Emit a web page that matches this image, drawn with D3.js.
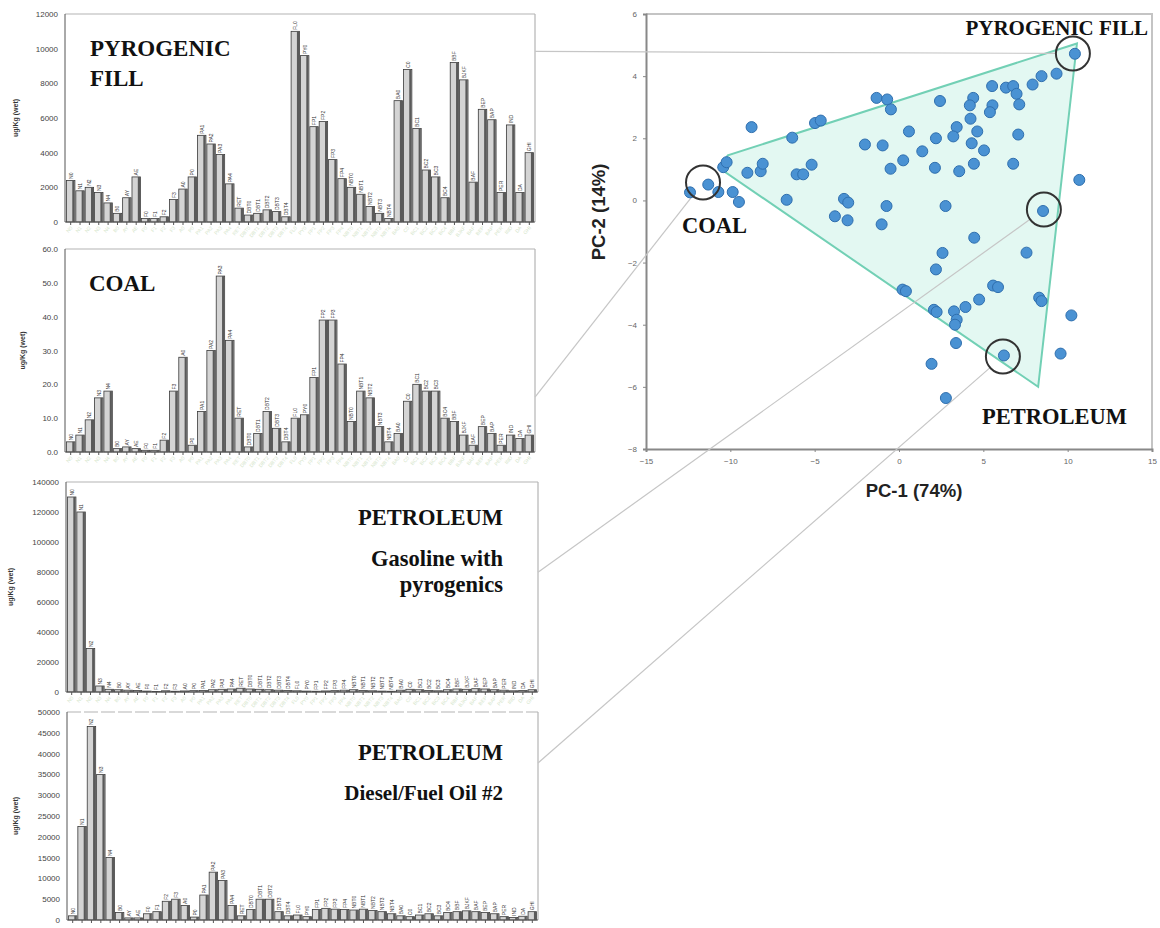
<!DOCTYPE html>
<html>
<head>
<meta charset="utf-8">
<script src="https://cdn.jsdelivr.net/npm/d3@7"></script>
<style>
body{margin:0;background:#fff;}
svg{display:block;}
</style>
</head>
<body>
<svg id="graphic" width="1160" height="928"></svg>
<script>

// Analytes on the x axis of the four bar charts
const compounds = ["N0","N1","N2","N3","N4","B0","AY","AE","F0","F1","F2","F3","A0","P0","PA1","PA2","PA3","PA4","RET",
    "DBT0","DBT1","DBT2","DBT3","DBT4","FL0","PY0","FP1","FP2","FP3","FP4","NBT0","NBT1","NBT2","NBT3","NBT4",
    "BA0","C0","BC1","BC2","BC3","BC4","BBF","BJKF","BAF","BEP","BAP","PER","IND","DA","GHI"]

// Concentrations, ug/Kg (wet)
const pyroValues = [2400,1800,2000,1700,1100,500,1400,2600,200,200,300,1300,1900,2600,5000,4500,3900,2200,800,400,
    500,700,600,300,11000,9600,5500,5800,3600,2500,2000,1600,900,500,200,7000,8800,5400,3000,2600,
    1400,9200,8200,2300,6500,5900,1700,5600,1700,4000]
const coalValues = [3,5,9.5,16,18,1,1.5,1,0.5,0.5,3.5,18,28,2,12,30,52,33,10,1.5,
    5.5,12,7,3,10,11,22,39,39,26,9,18,16,7.5,3,5.5,15,20,18,18,
    10,9,5,2,7.5,5.5,2,5,4,5]
const gasValues = [130000,120000,29000,4000,1800,1500,1200,1000,600,400,800,500,700,900,1000,1500,1800,2000,2500,2000,
    1800,1500,1200,1000,800,600,500,700,900,1200,1500,1000,800,600,500,1200,1800,1500,1000,800,
    1500,2000,1800,2200,2000,1500,1200,800,1000,1500]
const dieselValues = [1000,22500,46500,35000,15000,1800,500,500,1500,2000,4500,5000,3500,700,6000,11500,9500,3500,1000,2500,
    5000,5000,2000,1000,1200,800,2500,2800,2600,2500,2400,2600,2300,2000,1500,1000,800,1200,1500,1000,
    1800,2000,2200,2000,1800,1500,800,600,900,2000]

const pyroTicks = [0,2000,4000,6000,8000,10000,12000]
const coalTicks = [0,10,20,30,40,50,60]
const gasTicks = [0,20000,40000,60000,80000,100000,120000,140000]
const dieselTicks = [0,5000,10000,15000,20000,25000,30000,35000,40000,45000,50000]

const barTitles = [["PYROGENIC","FILL"],["COAL"],["PETROLEUM","Gasoline with","pyrogenics"],["PETROLEUM","Diesel/Fuel Oil #2"]]
const yTitle = "ug/Kg (wet)"

// PCA scores
const pc1 = [-12.39,-11.31,-10.71,-10.42,-10.22,-9.86,-9.49,-8.74,-8.99,-8.2,-8.08,-6.66,-6.33,-6.07,-5.68,-5.18,-4.98,-4.64,
    -3.8,-3.26,-3.01,-3.05,-2.02,-1.33,-0.97,-1.03,-0.74,-0.5,-0.7,-0.48,2.43,4.4,4.2,5.52,6.34,6.77,6.97,7.13,5.54,5.39,
    7.92,8.45,9.34,10.43,0.59,2.19,3.42,3.22,4.24,4.64,4.31,5.04,7.07,1.38,0.25,2.13,3.57,4.44,6.77,10.69,
    2.76,8.54,4.46,2.58,7.56,2.19,0.21,0.41,2.07,2.23,3.26,3.42,3.32,3.94,4.75,5.58,5.87,8.31,8.45,10.22,
    3.38,1.93,6.22,9.58,2.78]
const pc2 = [0.26,0.51,0.27,1.07,1.23,0.27,-0.05,2.36,0.89,0.94,1.18,0.02,2.02,0.84,0.84,1.15,2.49,2.57,
    -0.51,0.05,-0.07,-0.64,1.8,3.3,1.77,-0.77,-0.18,1.02,3.25,2.93,3.2,3.3,3.06,3.68,3.63,3.68,3.43,3.09,3.06,2.84,
    3.73,4.0,4.08,4.72,2.22,2.0,2.36,2.06,2.63,2.22,1.84,1.61,2.12,1.58,1.29,1.05,0.94,1.18,1.18,0.66,
    -0.18,-0.34,-1.2,-1.69,-1.68,-2.22,-2.87,-2.92,-3.52,-3.59,-3.57,-3.84,-4.0,-3.43,-3.19,-2.74,-2.79,-3.13,-3.24,-3.7,
    -4.59,-5.26,-4.99,-4.93,-6.36]

// Mixing triangle in PC space
const hullX = [-10.7,-10.15,10.55,8.25]
const hullY = [1.06,1.45,5.05,-6.0]

// Circled samples: pyrogenic fill, coal, gasoline, diesel
const markX = [10.31,-11.62,8.59,6.16]
const markY = [4.73,0.58,-0.29,-5.02]

const pcXTicks = [-15,-10,-5,0,5,10,15]
const pcYTicks = [-8,-6,-4,-2,0,2,4,6]
const sourceLabels = ["PYROGENIC FILL","COAL","PETROLEUM"]

// panel each connector starts from, and where on its right edge (fraction of height)
const linkPanel = [0,1,2,3]
const linkFrac = [0.18,0.73,0.43,0.245]


const svg = d3.select("#graphic")

const panels = [
    {x0:65, x1:535, y0:14, y1:222, yt:18, values:pyroValues, ticks:pyroTicks, fmt:d3.format("d"), cats:true,
        anchor:"start", tx:90, ty:[56,86], ts:[23,23]},
    {x0:65, x1:535, y0:249, y1:452, yt:25, values:coalValues, ticks:coalTicks, fmt:d3.format(".1f"), cats:true,
        anchor:"start", tx:89, ty:[291], ts:[23]},
    {x0:66, x1:538, y0:482, y1:692, yt:13, values:gasValues, ticks:gasTicks, fmt:d3.format("d"), cats:true,
        anchor:"end", tx:503, ty:[525,566,592], ts:[22.5,22.5,22.5]},
    {x0:67, x1:538, y0:712, y1:920, yt:18, values:dieselValues, ticks:dieselTicks, fmt:d3.format("d"), dashed:true,
        anchor:"end", tx:503, ty:[760,800], ts:[22.5,21]}
]

panels.forEach((p, k) => drawBars(p, barTitles[k]))

function drawBars(p, title){
    const g = svg.append("g")

    const x = d3.scaleBand()
        .domain(d3.range(p.values.length))
        .range([p.x0 + 1, p.x1 - 1])
        .paddingInner(0.1)
        .paddingOuter(0.05)

    const y = d3.scaleLinear()
        .domain([0, p.ticks[p.ticks.length - 1]])
        .range([p.y1, p.y0])

    // faint category labels under the axis
    if (p.cats) {
        g.selectAll(".cat")
            .data(compounds)
            .enter()
            .append("text")
            .attr("transform", (d, i) => `translate(${x(i) + x.bandwidth() / 2 + 2}, ${p.y1 + 6}) rotate(-50)`)
            .attr("text-anchor", "end")
            .attr("font-family", "Liberation Sans, Arial, sans-serif")
            .attr("font-size", 5)
            .attr("fill", "#d6e6cc")
            .text(d => d)
    }

    // frame: top edge (dashed on the last panel) and right edge
    g.append("line")
        .attr("x1", p.x0).attr("y1", p.y0)
        .attr("x2", p.x1).attr("y2", p.y0)
        .attr("stroke", "#b4b4b4")
        .attr("stroke-width", 1.2)
        .attr("stroke-dasharray", p.dashed ? "14,3" : null)

    g.append("line")
        .attr("x1", p.x1).attr("y1", p.y0)
        .attr("x2", p.x1).attr("y2", p.y1)
        .attr("stroke", "#b4b4b4")
        .attr("stroke-width", 1.2)

    // bars
    const bw = x.bandwidth()
    g.selectAll(".bar")
        .data(p.values)
        .enter()
        .append("rect")
        .attr("x", (d, i) => x(i))
        .attr("y", d => y(d))
        .attr("width", bw)
        .attr("height", d => p.y1 - y(d))
        .attr("fill", "#d4d4d4")
        .attr("stroke", "#3a3a3a")
        .attr("stroke-width", 0.8)

    g.selectAll(".shade")
        .data(p.values)
        .enter()
        .append("rect")
        .attr("x", (d, i) => x(i) + bw - 2.6)
        .attr("y", d => y(d))
        .attr("width", 2.2)
        .attr("height", d => p.y1 - y(d))
        .attr("fill", "#5a5a5a")

    // tiny labels above the bars
    g.selectAll(".lbl")
        .data(p.values)
        .enter()
        .append("text")
        .attr("transform", (d, i) => `translate(${x(i) + bw / 2 + 2}, ${y(d) - 1.5}) rotate(-90)`)
        .attr("font-family", "Liberation Sans, Arial, sans-serif")
        .attr("font-size", 5)
        .attr("fill", "#333")
        .text((d, i) => compounds[i])

    // y axis
    const axisLeft = d3.axisLeft(y)
        .tickValues(p.ticks)
        .tickFormat(p.fmt)
        .tickSize(0)
        .tickPadding(7)

    g.append("g")
        .attr("transform", `translate(${p.x0}, 0)`)
        .call(axisLeft)
        .call(a => a.select(".domain").remove())
        .selectAll("text")
        .attr("font-family", "Liberation Sans, Arial, sans-serif")
        .attr("font-size", 8)
        .attr("fill", "#444")

    const axisBottom = d3.axisBottom(x).tickSize(3).tickFormat("")
    g.append("g")
        .attr("transform", `translate(0, ${p.y1})`)
        .call(axisBottom)
        .call(a => a.select(".domain").remove())
        .selectAll("line")
        .attr("stroke", "#555")

    g.append("path")
        .attr("d", `M${p.x0},${p.y0}V${p.y1}H${p.x1}`)
        .attr("fill", "none")
        .attr("stroke", "#555")
        .attr("stroke-width", 1)

    // y title
    g.append("text")
        .attr("transform", `translate(${p.yt}, ${(p.y0 + p.y1) / 2}) rotate(-90)`)
        .attr("text-anchor", "middle")
        .attr("font-family", "Liberation Sans, Arial, sans-serif")
        .attr("font-weight", "bold")
        .attr("font-size", 7)
        .attr("fill", "#333")
        .text(yTitle)

    // panel title
    title.forEach((t, j) => {
        g.append("text")
            .attr("x", p.tx)
            .attr("y", p.ty[j])
            .attr("text-anchor", p.anchor)
            .attr("font-family", "Liberation Serif, Times New Roman, serif")
            .attr("font-weight", "bold")
            .attr("font-size", p.ts[j])
            .attr("fill", "#111")
            .text(t)
    })
}


// ---------- PCA scatter ----------
const xScale = d3.scaleLinear().domain([-15, 15]).range([646, 1152])
const yScale = d3.scaleLinear().domain([-8, 6]).range([449, 14])

const sc = svg.append("g")

sc.append("path")
    .attr("d", `M${xScale(-15)},${yScale(6)}H${xScale(15)}V${yScale(-8)}`)
    .attr("fill", "none")
    .attr("stroke", "#c4c4c4")
    .attr("stroke-width", 2)

const hull = hullX.map((v, i) => [xScale(v), yScale(hullY[i])])
sc.append("polygon")
    .attr("points", hull.map(d => d.join(",")).join(" "))
    .attr("fill", "#e3f8f2")
    .attr("stroke", "#72d0b5")
    .attr("stroke-width", 2)

sc.append("g")
    .attr("transform", `translate(0, ${yScale(-8)})`)
    .call(d3.axisBottom(xScale).tickValues(pcXTicks).tickSize(3).tickPadding(6))
    .call(a => a.select(".domain").attr("stroke", "#888").attr("stroke-width", 2))
    .call(a => a.selectAll("line").attr("stroke", "#888"))
    .selectAll("text")
    .attr("font-family", "Liberation Sans, Arial, sans-serif")
    .attr("font-size", 8)
    .attr("fill", "#666")

sc.append("g")
    .attr("transform", `translate(${xScale(-15)}, 0)`)
    .call(d3.axisLeft(yScale).tickValues(pcYTicks).tickSize(3).tickPadding(6))
    .call(a => a.select(".domain").attr("stroke", "#888").attr("stroke-width", 2))
    .call(a => a.selectAll("line").attr("stroke", "#888"))
    .selectAll("text")
    .attr("font-family", "Liberation Sans, Arial, sans-serif")
    .attr("font-size", 8)
    .attr("fill", "#666")

// connector lines from the bar panels to the circled samples
const markR = 17
linkPanel.forEach((k, i) => {
    const p = panels[k]
    const sx = p.x1, sy = p.y0 + (p.y1 - p.y0) * linkFrac[i]
    const cx = xScale(markX[i]), cy = yScale(markY[i])
    const len = Math.hypot(cx - sx, cy - sy)
    svg.append("line")
        .attr("x1", sx)
        .attr("y1", sy)
        .attr("x2", cx - (cx - sx) / len * markR)
        .attr("y2", cy - (cy - sy) / len * markR)
        .attr("stroke", "#c6c6c6")
        .attr("stroke-width", 1.2)
})

svg.append("g").selectAll("circle")
    .data(pc1)
    .enter()
    .append("circle")
    .attr("cx", d => xScale(d))
    .attr("cy", (d, i) => yScale(pc2[i]))
    .attr("r", 5.5)
    .attr("fill", "#4a92d3")
    .attr("stroke", "#2f6fae")
    .attr("stroke-width", 1)

svg.append("g").selectAll("circle")
    .data(markX)
    .enter()
    .append("circle")
    .attr("cx", d => xScale(d))
    .attr("cy", (d, i) => yScale(markY[i]))
    .attr("r", markR)
    .attr("fill", "none")
    .attr("stroke", "#333")
    .attr("stroke-width", 2)

const labelPos = [[1148, 35, "end", 21],[682, 233, "start", 22.5],[982, 424, "start", 22.5]]
sourceLabels.forEach((t, i) => {
    svg.append("text")
        .attr("x", labelPos[i][0])
        .attr("y", labelPos[i][1])
        .attr("text-anchor", labelPos[i][2])
        .attr("font-family", "Liberation Serif, Times New Roman, serif")
        .attr("font-weight", "bold")
        .attr("font-size", labelPos[i][3])
        .attr("fill", "#111")
        .text(t)
})

svg.append("text")
    .attr("x", 914)
    .attr("y", 497)
    .attr("text-anchor", "middle")
    .attr("font-family", "Liberation Sans, Arial, sans-serif")
    .attr("font-weight", "bold")
    .attr("font-size", 18.5)
    .attr("fill", "#222")
    .text("PC-1 (74%)")

svg.append("text")
    .attr("transform", "translate(605, 212) rotate(-90)")
    .attr("text-anchor", "middle")
    .attr("font-family", "Liberation Sans, Arial, sans-serif")
    .attr("font-weight", "bold")
    .attr("font-size", 18.5)
    .attr("fill", "#222")
    .text("PC-2 (14%)")

</script>
</body>
</html>
